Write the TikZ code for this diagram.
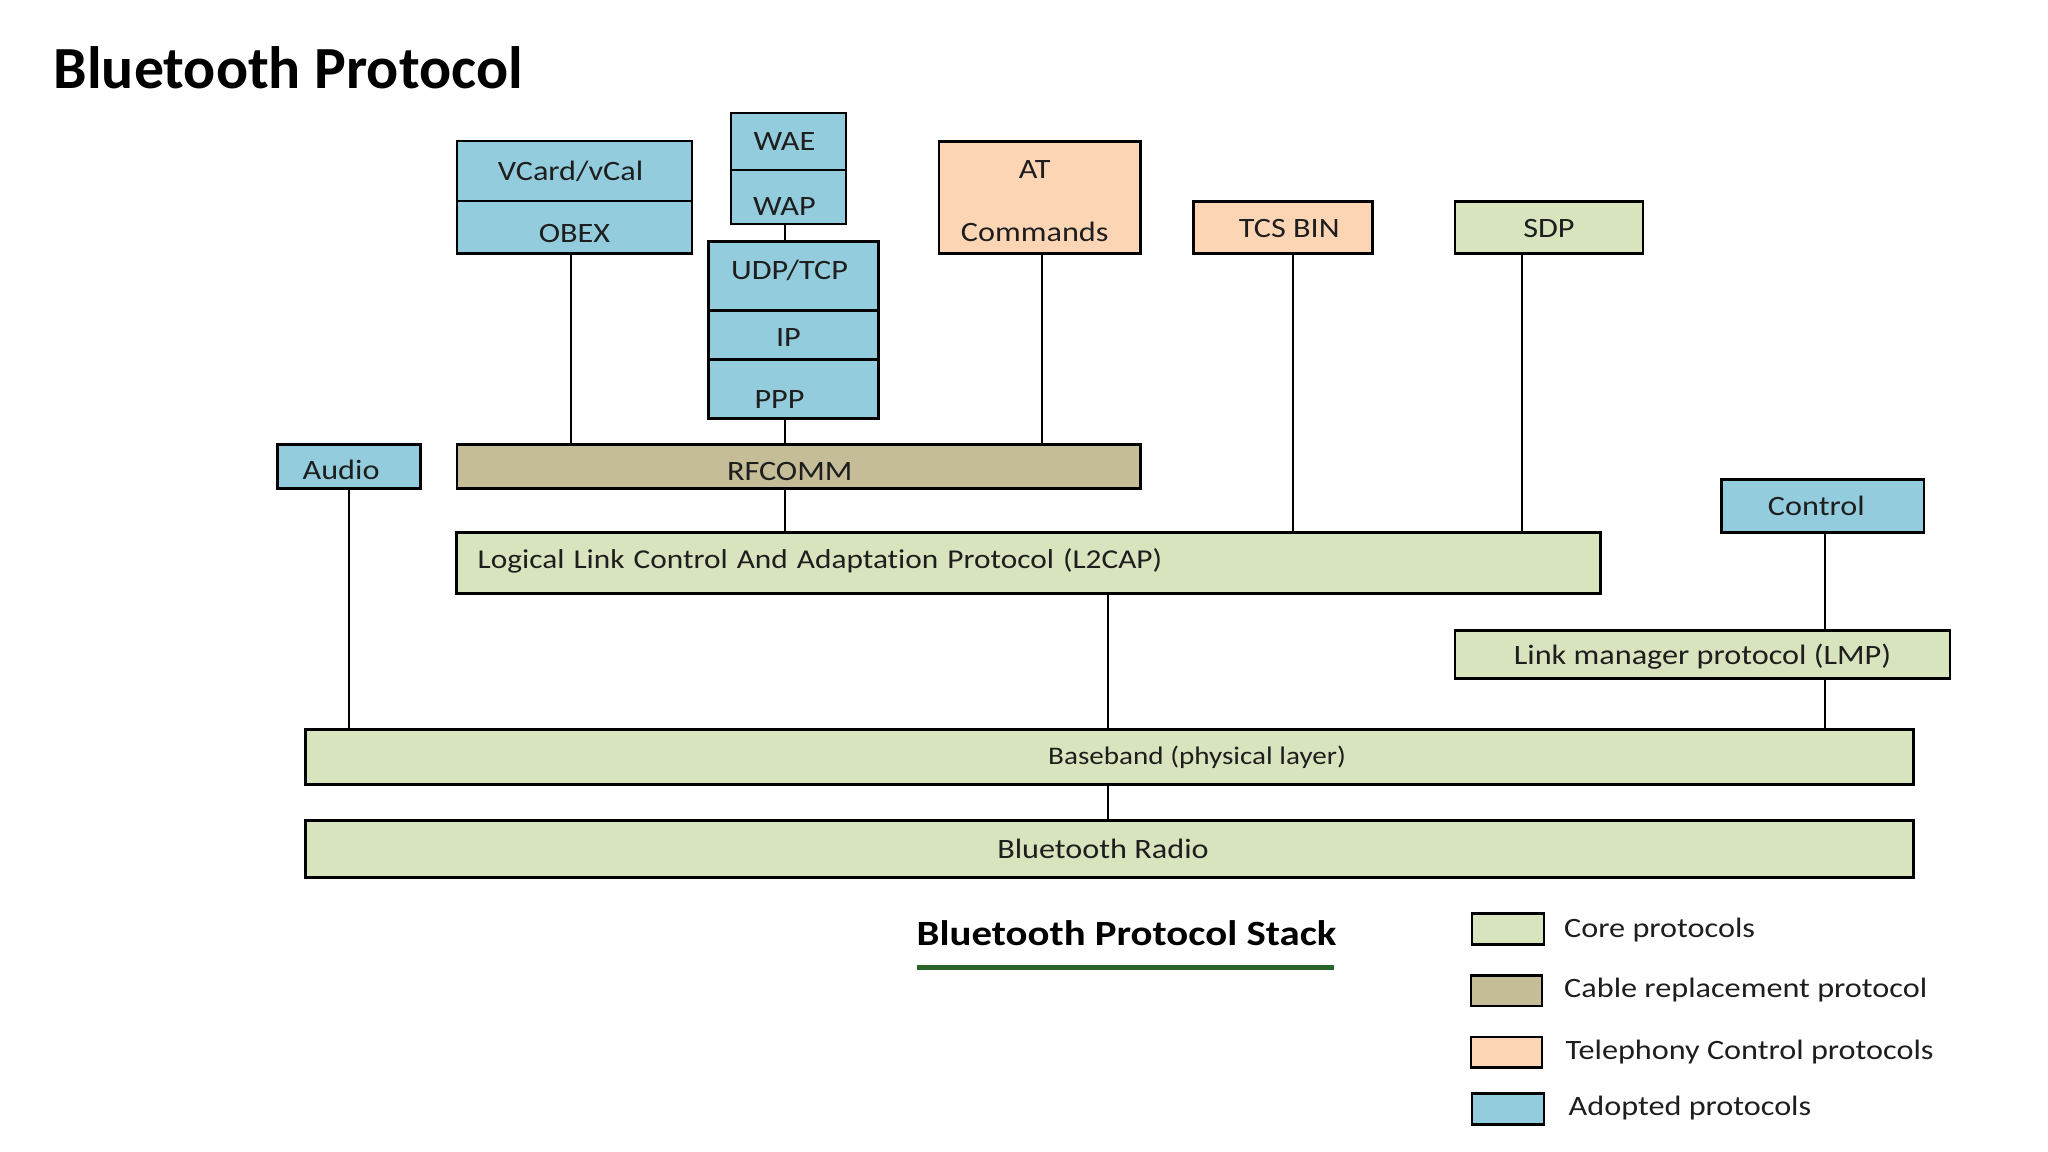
\documentclass[tikz,border=0pt]{standalone}
\usepackage{fontspec}
\setmainfont{Carlito}[FakeStretch=1.15, Ligatures={NoCommon}]
\newfontfamily\titlefont{Carlito}
\definecolor{core}{HTML}{D7E4BD}
\definecolor{cable}{HTML}{C4BD97}
\definecolor{tele}{HTML}{FCD5B5}
\definecolor{adopt}{HTML}{93CDDD}
\definecolor{ulgreen}{RGB}{42,100,45}
\definecolor{txt}{RGB}{30,30,30}
% #1 text, #2 vertical raise, #3 trailing kern (shifts text left by half)
\newcommand\shtxt[3]{\raisebox{#2}[\height][\depth]{#1}\kern#3\relax}
\tikzset{
  bx/.style args={#1/#2}{draw=black, line width=0.8pt, inner sep=0pt,
    minimum width=#1*0.01cm, minimum height=#2*0.01cm, text=txt,
    font=\fontsize{7.97pt}{9.4pt}\selectfont},
  conn/.style={draw=black, line width=0.6pt},
  legtxt/.style={anchor=west, inner sep=0pt, text=txt,
    font=\fontsize{7.97pt}{9.4pt}\selectfont}
}
\begin{document}
\begin{tikzpicture}[x=0.01cm, y=-0.01cm]
\useasboundingbox (0,0) rectangle (2048,1152);
\fill[white] (0,0) rectangle (2048,1152);

% title
\node[anchor=base west, inner sep=0pt, font=\titlefont\bfseries\fontsize{17pt}{20pt}\selectfont] (title) at (53,89) {Bluetooth Protocol};

% upper boxes
\node[bx=235/60, fill=adopt] (vcard) at (574.5,171) {\shtxt{VCard/vCal}{0pt}{0.08cm}};
\node[bx=235/52.5, fill=adopt] (obex) at (574.5,227.3) {\shtxt{OBEX}{-1.9pt}{0cm}};
\node[bx=115/57, fill=adopt] (wae) at (788.5,141.5) {\shtxt{WAE}{0pt}{0.08cm}};
\node[bx=115/54, fill=adopt] (wap) at (788.5,197) {\shtxt{WAP}{-2.6pt}{0.08cm}};
\node[bx=170/68.7, fill=adopt] (udp) at (793.5,276) {\shtxt{UDP/TCP}{1.5pt}{0.08cm}};
\node[bx=170/49, fill=adopt] (ip) at (793.5,334.9) {\shtxt{IP}{-0.7pt}{0.1cm}};
\node[bx=170/59.5, fill=adopt] (ppp) at (793.5,389) {\shtxt{PPP}{-3pt}{0.28cm}};
\node[bx=201.3/112, fill=tele] (at) at (1039.7,197.5) {\shtxt{\begin{tabular}{@{}c@{}}AT\\[0.3cm]Commands\end{tabular}}{-1.7pt}{0.1cm}};
\node[bx=179/52, fill=tele] (tcs) at (1283.3,227.4) {\shtxt{\hspace{0.12cm}TCS BIN}{-0.4pt}{0cm}};
\node[bx=188/52, fill=core] (sdp) at (1549,227.4) {\shtxt{SDP}{-0.4pt}{0cm}};

% middle
\node[bx=143/44, fill=adopt] (audio) at (349.1,466.5) {\shtxt{Audio}{-1.1pt}{0.16cm}};
\node[bx=683.3/44, fill=cable] (rfcomm) at (798.7,466.5) {\shtxt{RFCOMM}{-1.5pt}{0.18cm}};
\node[bx=1143/61, fill=core, text width=11.01cm, inner xsep=0.21cm, align=left, font=\fontsize{7.75pt}{9.2pt}\selectfont] (l2cap) at (1028.5,563.2) {\raisebox{0.7pt}[\height][\depth]{Logical Link Control And Adaptation Protocol (L2CAP)}};
\node[bx=202.5/53.3, fill=adopt] (control) at (1822.8,506) {\shtxt{Control}{0pt}{0.13cm}};
\node[bx=495/47.8, fill=core] (lmp) at (1702.5,654.3) {\shtxt{Link manager protocol (LMP)}{-0.7pt}{0cm}};
\node[bx=1608/54.7, fill=core, font=\fontsize{7.2pt}{8.6pt}\selectfont] (baseband) at (1109.5,757) {\hspace{1.75cm}Baseband (physical layer)};
\node[bx=1608/57, fill=core] (radio) at (1109.5,848.8) {\shtxt{Bluetooth Radio}{0pt}{0.13cm}};

% connector columns
\coordinate (cObex) at (571.4,0);
\coordinate (cStack) at (785,0);
\coordinate (cAT) at (1042.3,0);
\coordinate (cTCS) at (1293,0);
\coordinate (cSDP) at (1522.3,0);
\coordinate (cAudio) at (349.4,0);
\coordinate (cMid) at (1107.6,0);
\coordinate (cCtl) at (1824.7,0);

\draw[conn] (obex.south -| cObex) -- (rfcomm.north -| cObex);
\draw[conn] (wap.south -| cStack) -- (udp.north -| cStack);
\draw[conn] (ppp.south -| cStack) -- (rfcomm.north -| cStack);
\draw[conn] (at.south -| cAT) -- (rfcomm.north -| cAT);
\draw[conn] (rfcomm.south -| cStack) -- (l2cap.north -| cStack);
\draw[conn] (tcs.south -| cTCS) -- (l2cap.north -| cTCS);
\draw[conn] (sdp.south -| cSDP) -- (l2cap.north -| cSDP);
\draw[conn] (audio.south -| cAudio) -- (baseband.north -| cAudio);
\draw[conn] (l2cap.south -| cMid) -- (baseband.north -| cMid);
\draw[conn] (control.south -| cCtl) -- (lmp.north -| cCtl);
\draw[conn] (lmp.south -| cCtl) -- (baseband.north -| cCtl);
\draw[conn] (baseband.south -| cMid) -- (radio.north -| cMid);

% caption
\node[anchor=base west, inner sep=0pt, font=\bfseries\fontsize{10.1pt}{12pt}\selectfont] (stack) at (916,945) {Bluetooth Protocol Stack};
\coordinate (ulA) at (917,967.5);
\coordinate (ulB) at (1334,967.5);
\draw[ulgreen, line width=1.3pt] (ulA) -- (ulB);

% legend
\node[bx=72/31, fill=core] (lg1) at (1508,929) {};
\node[bx=71/30.5, fill=cable] (lg2) at (1506.5,990.8) {};
\node[bx=71/30.5, fill=tele] (lg3) at (1506.5,1052.3) {};
\node[bx=72/31, fill=adopt] (lg4) at (1508,1108.6) {};
\node[legtxt] (lt1) at (1563.5,929.6) {Core protocols};
\node[legtxt] (lt2) at (1563.5,990) {Cable replacement protocol};
\node[legtxt] (lt3) at (1565,1052) {Telephony Control protocols};
\node[legtxt] (lt4) at (1568,1108) {Adopted protocols};
\end{tikzpicture}
\end{document}
